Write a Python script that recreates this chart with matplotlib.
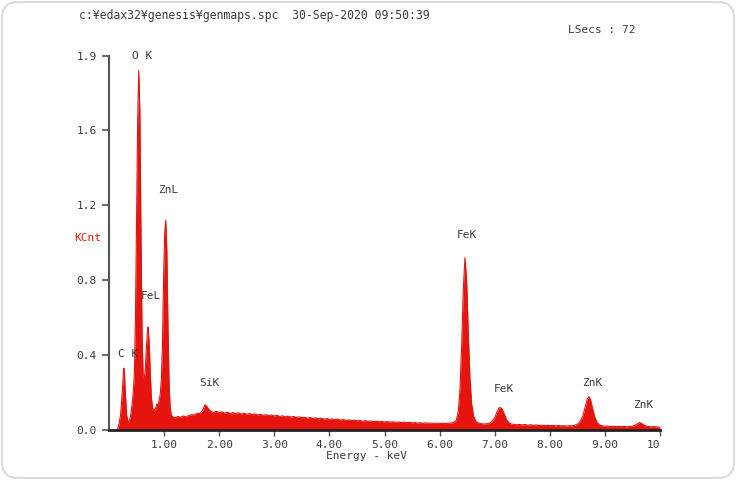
import matplotlib
matplotlib.use("Agg")
import matplotlib.pyplot as plt
from matplotlib.patches import FancyBboxPatch

# ---------------- data ----------------
# low-energy region: C K, O K, Fe L, Zn L
low_energy = [0.15, 0.18, 0.21, 0.24, 0.26, 0.27, 0.28, 0.30, 0.32, 0.34, 0.36, 0.38,
              0.40, 0.42, 0.44, 0.46, 0.48, 0.50, 0.52, 0.54, 0.56, 0.58, 0.60, 0.62,
              0.64, 0.66, 0.68, 0.70, 0.71, 0.73, 0.75, 0.77, 0.79, 0.81, 0.83, 0.85,
              0.87, 0.89, 0.91, 0.93, 0.95, 0.97, 0.99, 1.01, 1.03, 1.05, 1.07, 1.09,
              1.11, 1.13, 1.16]
low_counts = [0.0, 0.03, 0.08, 0.20, 0.30, 0.33, 0.30, 0.18, 0.08, 0.05, 0.04, 0.06,
              0.09, 0.14, 0.20, 0.30, 0.60, 1.15, 1.65, 1.92, 1.70, 1.05, 0.50, 0.28,
              0.27, 0.33, 0.45, 0.53, 0.55, 0.46, 0.29, 0.17, 0.12, 0.10, 0.11, 0.12,
              0.14, 0.13, 0.16, 0.19, 0.27, 0.45, 0.80, 1.05, 1.12, 0.95, 0.55, 0.25,
              0.12, 0.08, 0.07]

# continuum with Si K
mid_energy = [1.20, 1.25, 1.30, 1.35, 1.40, 1.45, 1.50, 1.55, 1.60, 1.65, 1.70, 1.74,
              1.77, 1.80, 1.85, 1.90, 1.95, 2.00, 2.05, 2.10, 2.15, 2.20, 2.25, 2.30,
              2.35, 2.40, 2.45, 2.50, 2.55, 2.60, 2.65, 2.70, 2.75, 2.80, 2.85, 2.90,
              2.95, 3.00, 3.05, 3.10, 3.15, 3.20, 3.25, 3.30, 3.35, 3.40, 3.45, 3.50,
              3.55, 3.60, 3.65, 3.70, 3.75, 3.80, 3.85, 3.90, 3.95, 4.00, 4.05, 4.10,
              4.15, 4.20, 4.25, 4.30, 4.35, 4.40, 4.45, 4.50, 4.55, 4.60, 4.65, 4.70,
              4.75, 4.80, 4.85, 4.90, 4.95, 5.00, 5.05, 5.10, 5.15, 5.20, 5.25, 5.30,
              5.35, 5.40, 5.45, 5.50, 5.55, 5.60, 5.65, 5.70, 5.75, 5.80, 5.85, 5.90,
              5.95, 6.00, 6.05, 6.10, 6.15, 6.20, 6.25]
mid_counts = [0.065, 0.072, 0.068, 0.075, 0.070, 0.078, 0.082, 0.080, 0.090, 0.088,
              0.105, 0.135, 0.128, 0.115, 0.098, 0.094, 0.100, 0.092, 0.097, 0.090,
              0.095, 0.088, 0.093, 0.087, 0.092, 0.085, 0.090, 0.084, 0.088, 0.082,
              0.086, 0.080, 0.084, 0.078, 0.082, 0.077, 0.080, 0.075, 0.078, 0.072,
              0.076, 0.070, 0.074, 0.069, 0.072, 0.067, 0.070, 0.066, 0.068, 0.063,
              0.067, 0.062, 0.065, 0.060, 0.063, 0.058, 0.061, 0.057, 0.059, 0.055,
              0.058, 0.053, 0.056, 0.052, 0.054, 0.050, 0.053, 0.049, 0.051, 0.047,
              0.050, 0.046, 0.048, 0.045, 0.047, 0.044, 0.046, 0.043, 0.045, 0.042,
              0.044, 0.041, 0.043, 0.040, 0.042, 0.039, 0.041, 0.038, 0.040, 0.037,
              0.039, 0.036, 0.038, 0.036, 0.037, 0.035, 0.037, 0.035, 0.036, 0.034,
              0.036, 0.037, 0.040]

# Fe K alpha / Fe K beta
fe_energy = [6.30, 6.34, 6.37, 6.40, 6.43, 6.46, 6.49, 6.52, 6.55, 6.58, 6.62, 6.66,
             6.70, 6.75, 6.80, 6.85, 6.90, 6.95, 7.00, 7.04, 7.08, 7.11, 7.14, 7.18,
             7.22, 7.26, 7.30]
fe_counts = [0.05, 0.10, 0.22, 0.45, 0.75, 0.92, 0.80, 0.52, 0.28, 0.14, 0.07, 0.045,
             0.038, 0.034, 0.032, 0.033, 0.035, 0.045, 0.065, 0.095, 0.118, 0.120,
             0.108, 0.080, 0.052, 0.038, 0.032]

# continuum, Zn K alpha / Zn K beta
zn_energy = [7.35, 7.40, 7.45, 7.50, 7.55, 7.60, 7.65, 7.70, 7.75, 7.80, 7.85, 7.90,
             7.95, 8.00, 8.05, 8.10, 8.15, 8.20, 8.25, 8.30, 8.35, 8.40, 8.45, 8.50,
             8.55, 8.60, 8.64, 8.68, 8.71, 8.74, 8.78, 8.82, 8.86, 8.90, 8.95, 9.00,
             9.05, 9.10, 9.15, 9.20, 9.25, 9.30, 9.35, 9.40, 9.45, 9.50, 9.55, 9.60,
             9.63, 9.66, 9.70, 9.75, 9.80, 9.85, 9.90, 9.95, 10.00]
zn_counts = [0.030, 0.028, 0.030, 0.027, 0.029, 0.026, 0.028, 0.025, 0.027, 0.024,
             0.026, 0.024, 0.025, 0.023, 0.025, 0.022, 0.024, 0.022, 0.023, 0.021,
             0.023, 0.022, 0.025, 0.030, 0.045, 0.075, 0.120, 0.165, 0.178, 0.160,
             0.110, 0.065, 0.040, 0.028, 0.022, 0.020, 0.021, 0.019, 0.020, 0.018,
             0.019, 0.018, 0.019, 0.017, 0.019, 0.020, 0.026, 0.035, 0.040, 0.036,
             0.028, 0.021, 0.018, 0.017, 0.018, 0.016, 0.016]

peak_labels = ["C K", "O K", "FeL", "ZnL", "SiK", "FeK", "FeK", "ZnK", "ZnK"]
label_x = [0.34, 0.61, 0.76, 1.07, 1.83, 6.50, 7.17, 8.77, 9.69]
label_y = [0.405, 2.0, 0.715, 1.28, 0.25, 1.04, 0.22, 0.25, 0.133]

y_ticks = [0.0, 0.4, 0.8, 1.2, 1.6, 2.0]
y_tick_labels = ["0.0", "0.4", "0.8", "1.2", "1.6", "1.9"]
x_ticks = [1, 2, 3, 4, 5, 6, 7, 8, 9, 10]
x_tick_labels = ["1.00", "2.00", "3.00", "4.00", "5.00", "6.00", "7.00", "8.00", "9.00", "10"]

header = "c:¥edax32¥genesis¥genmaps.spc  30-Sep-2020 09:50:39"
lsecs = "LSecs : 72"

# ---------------- drawing ----------------
energy = low_energy + mid_energy + fe_energy + zn_energy
counts = low_counts + mid_counts + fe_counts + zn_counts

RED = "#e5140f"
TXT = "#3a3a3a"
FONT = "DejaVu Sans Mono"
FS = 8

fig = plt.figure(figsize=(7.36, 4.8), dpi=100)
fig.patch.set_facecolor("white")

frame = FancyBboxPatch((0.02, 0.02), 7.32, 4.76,
                       boxstyle="round,pad=0,rounding_size=0.16",
                       transform=fig.dpi_scale_trans, facecolor="none",
                       edgecolor="#dcdcdc", linewidth=1.5, zorder=-5)
fig.patches.append(frame)

ax = fig.add_axes([109 / 736, 50 / 480, 551 / 736, 374.5 / 480])
ax.set_facecolor("none")
ax.fill_between(energy, counts, 0, color=RED, linewidth=0)
ax.plot(energy, counts, color=RED, linewidth=0.8)

ax.set_xlim(0, 10)
ax.set_ylim(0, 2.0)

for s in ["top", "right"]:
    ax.spines[s].set_visible(False)
ax.spines["left"].set_color("#555555")
ax.spines["left"].set_linewidth(1.5)
ax.spines["bottom"].set_color("#222222")
ax.spines["bottom"].set_linewidth(2.0)

ax.set_yticks(y_ticks)
ax.set_yticklabels(y_tick_labels, fontfamily=FONT, fontsize=FS, color=TXT)
ax.set_xticks(x_ticks)
ax.set_xticklabels(x_tick_labels, fontfamily=FONT, fontsize=FS, color=TXT)
ax.tick_params(axis="y", direction="out", length=5, width=1.2, color="#555555", pad=4)
ax.tick_params(axis="x", direction="out", length=4, width=1.0, color="#555555", pad=3)
ax.get_xticklabels()[-1].set_ha("right")

for t, x, y in zip(peak_labels, label_x, label_y):
    ax.text(x, y, t, ha="center", va="center", fontfamily=FONT, fontsize=FS,
            color=TXT, clip_on=False)

fig.text(79 / 736, 1 - 16 / 480, header, ha="left", va="center",
         fontfamily=FONT, fontsize=8.3, color=TXT)
fig.text(568 / 736, 1 - 30 / 480, lsecs, ha="left", va="center",
         fontfamily=FONT, fontsize=FS, color=TXT)
fig.text(88 / 736, 1 - 238 / 480, "KCnt", ha="center", va="center",
         fontfamily=FONT, fontsize=FS, color=RED)
fig.text(366 / 736, 1 - 456 / 480, "Energy - keV", ha="center", va="center",
         fontfamily=FONT, fontsize=FS, color=TXT)

fig.savefig("out.png", dpi=100, facecolor="white")
